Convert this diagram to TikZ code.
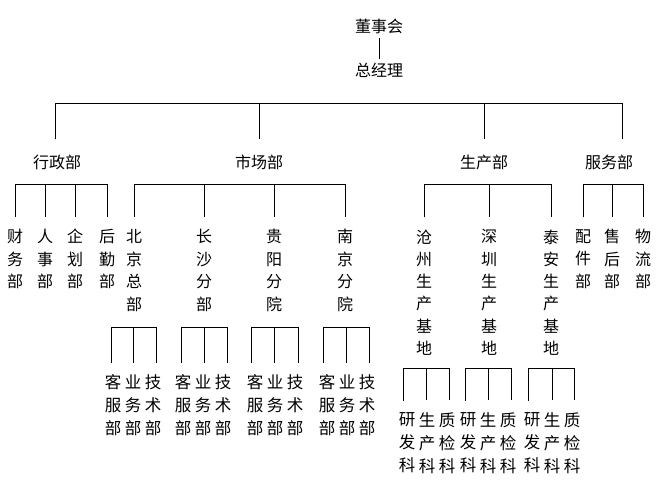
\documentclass[tikz,border=0pt]{standalone}
\usepackage{fontspec}
\newfontfamily\cjk{Noto Sans CJK SC}
\begin{document}
\begin{tikzpicture}[x=1pt,y=-1pt,
  lbl/.style={font=\cjk\fontsize{16}{22.5}\selectfont, align=center, inner sep=0pt, text=black},
  six/.style={font=\cjk\fontsize{16}{22.3}\selectfont},
  leaf/.style={font=\cjk\fontsize{16.5}{23}\selectfont},
  wire/.style={draw=black, line width=0.8pt},
  gap/.style={shorten <=12pt, shorten >=12pt},
  gapend/.style={shorten >=12pt}
]
\useasboundingbox (0,0) rectangle (663,500);

% top
\node[lbl] (dsh) at (379,26.5) {董事会};
\node[lbl] (zjl) at (379,70.5) {总经理};
\draw[wire, shorten <=4pt, shorten >=4pt] (dsh) -- (zjl);

% level 2
\node[lbl] (xz) at (57,162) {行政部};
\node[lbl] (sc) at (259,162) {市场部};
\node[lbl] (scb) at (484,162) {生产部};
\node[lbl] (fw) at (609,162) {服务部};
\coordinate (b1) at (55,103);
\coordinate (b4) at (622,103);
\draw[wire, shorten <=15pt, shorten >=15pt] (b1 |- xz.north) -- (b1) -- (b4) -- (b4 |- fw.north);
\draw[wire, shorten >=15pt] (sc.north |- b1) -- (sc.north);
\draw[wire, shorten >=15pt] (scb.north |- b1) -- (scb.north);

% level 3
\coordinate (h3) at (0,184.5);
% 行政部
\node[lbl] (cw) at (15,259) {财\\务\\部};
\node[lbl] (rs) at (45,259) {人\\事\\部};
\node[lbl] (qh) at (75,259) {企\\划\\部};
\node[lbl] (hq) at (107,259) {后\\勤\\部};
\draw[wire, gap] (cw.north) -- (cw.north |- h3) -- (hq.north |- h3) -- (hq.north);
\draw[wire, gapend] (rs.north |- h3) -- (rs.north);
\draw[wire, gapend] (qh.north |- h3) -- (qh.north);
% 市场部
\node[lbl] (bj) at (134,270.5) {北\\京\\总\\部};
\node[lbl] (cs) at (204,270.5) {长\\沙\\分\\部};
\node[lbl] (gy) at (274,270.5) {贵\\阳\\分\\院};
\node[lbl] (nj) at (345,270.5) {南\\京\\分\\院};
\draw[wire, gap] (bj.north) -- (bj.north |- h3) -- (nj.north |- h3) -- (nj.north);
\draw[wire, gapend] (cs.north |- h3) -- (cs.north);
\draw[wire, gapend] (gy.north |- h3) -- (gy.north);
% 生产部
\node[lbl, six] (cz) at (424,292.5) {沧\\州\\生\\产\\基\\地};
\node[lbl, six] (sz) at (489,292.5) {深\\圳\\生\\产\\基\\地};
\node[lbl, six] (ta) at (551,292.5) {泰\\安\\生\\产\\基\\地};
\draw[wire, gap] (cz.north) -- (cz.north |- h3) -- (ta.north |- h3) -- (ta.north);
\draw[wire, gapend] (sz.north |- h3) -- (sz.north);
% 服务部
\node[lbl] (pj) at (583,259) {配\\件\\部};
\node[lbl] (sh) at (612,259) {售\\后\\部};
\node[lbl] (wl) at (643,259) {物\\流\\部};
\draw[wire, gap] (pj.north) -- (pj.north |- h3) -- (wl.north |- h3) -- (wl.north);
\draw[wire, gapend] (sh.north |- h3) -- (sh.north);

% level 4 : market branches
\foreach \g/\da/\db/\dc/\ta/\tb/\tc in {
  1/111/133/156/113/133/153,
  2/181/204/227/183/203/223,
  3/251/274/298/255/275/295,
  4/323/346/369/327/347/367} {
  \coordinate (m\g a) at (\da,327);
  \coordinate (m\g b) at (\db,327);
  \coordinate (m\g c) at (\dc,327);
  \node[lbl, leaf] (kf\g) at (\ta,405.5) {客\\服\\部};
  \node[lbl, leaf] (yw\g) at (\tb,405.5) {业\\务\\部};
  \node[lbl, leaf] (js\g) at (\tc,405.5) {技\\术\\部};
  \draw[wire, gap] (m\g a |- kf\g.north) -- (m\g a) -- (m\g c) -- (m\g c |- js\g.north);
  \draw[wire, gapend] (m\g b) -- (m\g b |- yw\g.north);
}

% level 4 : production bases
\foreach \g/\da/\db/\dc/\ta/\tb/\tc in {
  1/403/426/449/407/427/447,
  2/465/488/511/468/488/508,
  3/528/552/574/532/552/572} {
  \coordinate (p\g a) at (\da,368);
  \coordinate (p\g b) at (\db,368);
  \coordinate (p\g c) at (\dc,368);
  \node[lbl, leaf] (yf\g) at (\ta,443) {研\\发\\科};
  \node[lbl, leaf] (sck\g) at (\tb,443) {生\\产\\科};
  \node[lbl, leaf] (zj\g) at (\tc,443) {质\\检\\科};
  \draw[wire, gap] (p\g a |- yf\g.north) -- (p\g a) -- (p\g c) -- (p\g c |- zj\g.north);
  \draw[wire, gapend] (p\g b) -- (p\g b |- sck\g.north);
}
\end{tikzpicture}
\end{document}
